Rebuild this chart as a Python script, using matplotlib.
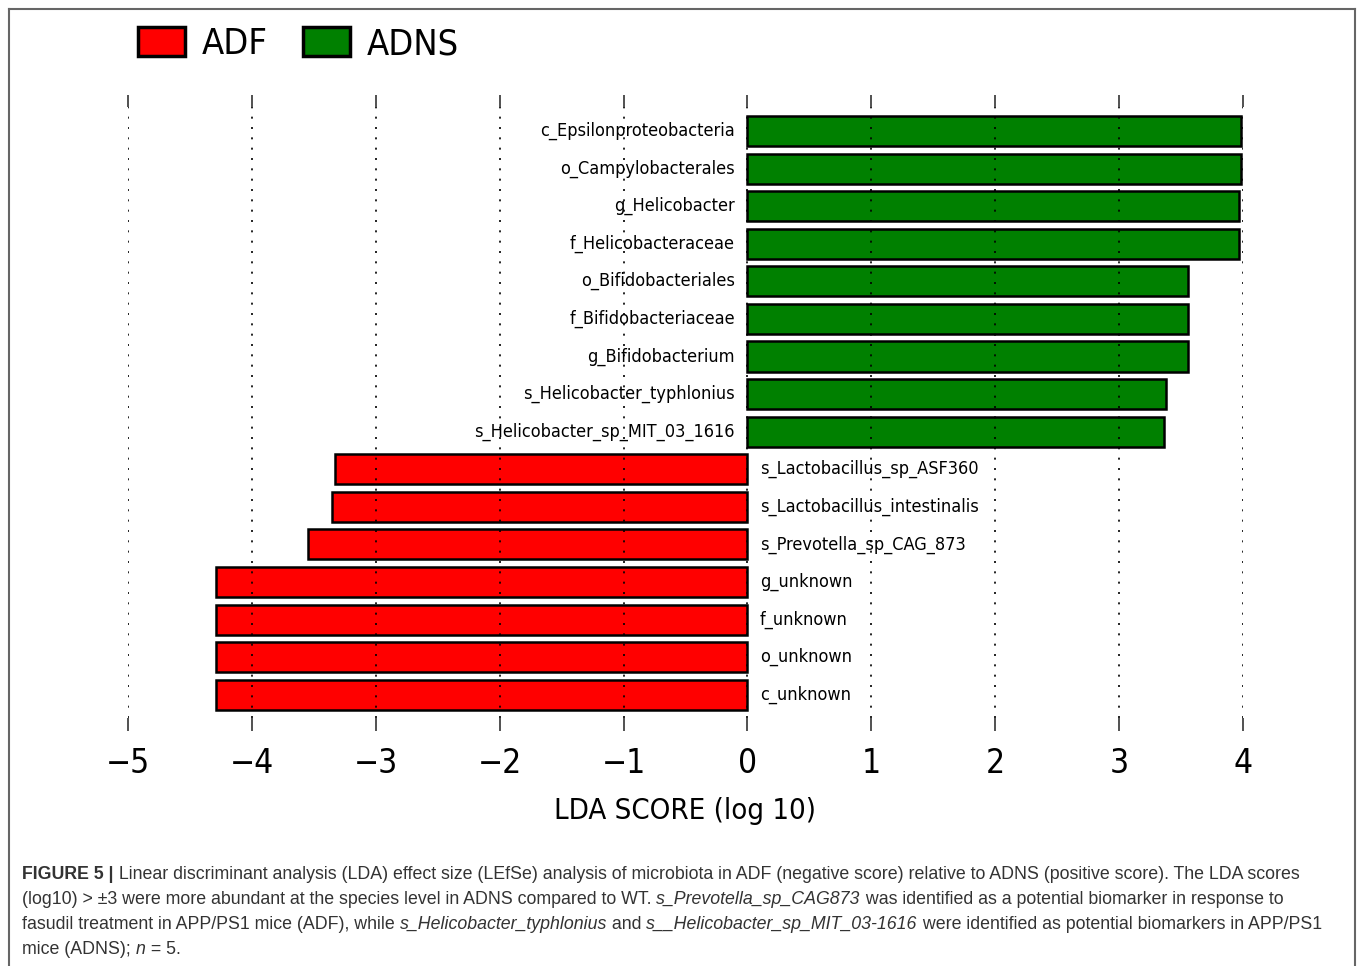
import matplotlib
matplotlib.use("Agg")
import matplotlib.pyplot as plt
from matplotlib.patches import Patch
from matplotlib.lines import Line2D
from matplotlib import font_manager
import numpy as np

# LEfSe results, top to bottom
taxa = [
    "c_Epsilonproteobacteria", "o_Campylobacterales", "g_Helicobacter",
    "f_Helicobacteraceae", "o_Bifidobacteriales", "f_Bifidobacteriaceae",
    "g_Bifidobacterium", "s_Helicobacter_typhlonius", "s_Helicobacter_sp_MIT_03_1616",
    "s_Lactobacillus_sp_ASF360", "s_Lactobacillus_intestinalis", "s_Prevotella_sp_CAG_873",
    "g_unknown", "f_unknown", "o_unknown", "c_unknown",
]
lda = [3.98, 3.98, 3.97, 3.97, 3.56, 3.56, 3.56, 3.38, 3.36,
       -3.33, -3.35, -3.55, -4.29, -4.29, -4.29, -4.29]
xticks = [-5, -4, -3, -2, -1, 0, 1, 2, 3, 4]
groups = ["ADF", "ADNS"]
group_colors = ["#ff0000", "#008000"]

# narrow font for the chart if there is one
chart_font = "DejaVu Sans"
chart_stretch = "condensed"
for name in ["Liberation Sans Narrow"]:
    try:
        font_manager.findfont(name, fallback_to_default=False)
        chart_font = name
        chart_stretch = "normal"
        break
    except Exception:
        pass

fig = plt.figure(figsize=(13.57, 9.66), dpi=100)
W, H = 1357, 966

ax = fig.add_axes([128 / W, 1 - 718 / H, 1115 / W, 611 / H])
y = np.arange(len(taxa))
colors = [group_colors[1] if v > 0 else group_colors[0] for v in lda]
ax.barh(y, lda, height=0.8, color=colors, edgecolor="black", linewidth=1.8, zorder=2)

ax.set_xlim(-5, 4)
ax.set_ylim(len(taxa) - 0.38, -0.64)
for x in xticks:
    ax.axvline(x, color="black", linestyle=(0, (1.2, 5)), linewidth=1.2, zorder=3)

for yi, (t, v) in enumerate(zip(taxa, lda)):
    if v > 0:
        ax.text(-0.1, yi, t, ha="right", va="center", fontsize=13,
                family=chart_font, fontstretch=chart_stretch, zorder=4)
    else:
        ax.text(0.1, yi, t, ha="left", va="center", fontsize=13,
                family=chart_font, fontstretch=chart_stretch, zorder=4)

for s in ax.spines.values():
    s.set_visible(False)
ax.set_yticks([])
ax.set_xticks(xticks)
ax.set_xticklabels([f"\u2212{abs(v)}" if v < 0 else str(v) for v in xticks],
                   fontsize=24, family=chart_font, fontstretch=chart_stretch)
ax.tick_params(axis="x", which="both", top=True, bottom=True, direction="out",
               length=9, width=1.2, color="#333333", pad=12)
ax.set_xlabel("LDA SCORE (log 10)", fontsize=21, family=chart_font,
              fontstretch=chart_stretch, labelpad=12)

handles = [Patch(facecolor=c, edgecolor="black", linewidth=2.5) for c in group_colors]
fig.legend(handles, groups, loc="upper left", bbox_to_anchor=(120 / W, 1 - 9 / H),
           ncol=2, frameon=False, borderpad=0, handlelength=1.3, handleheight=0.85,
           handletextpad=0.45, columnspacing=1.0,
           prop={"family": chart_font, "stretch": chart_stretch, "size": 26})

# frame around the figure panel
frame_kw = dict(color="#666666", linewidth=1.5, transform=fig.transFigure)
fig.add_artist(Line2D([8.5 / W, 8.5 / W], [0, 1 - 8.5 / H], **frame_kw))
fig.add_artist(Line2D([8.5 / W, 1354.5 / W], [1 - 8.5 / H, 1 - 8.5 / H], **frame_kw))
fig.add_artist(Line2D([1354.5 / W, 1354.5 / W], [0, 1 - 8.5 / H], **frame_kw))

# caption, drawn run by run so bold/italic can be mixed
cap_font = "Liberation Sans"
cap_size = 12.8
cap_color = "#333333"
caption = [
    [("FIGURE 5 |", "bold", "normal"),
     (" Linear discriminant analysis (LDA) effect size (LEfSe) analysis of microbiota in ADF "
      "(negative score) relative to ADNS (positive score). The LDA scores", "normal", "normal")],
    [("(log10) > \u00b13 were more abundant at the species level in ADNS compared to WT. ", "normal", "normal"),
     ("s_Prevotella_sp_CAG873", "normal", "italic"),
     (" was identified as a potential biomarker in response to", "normal", "normal")],
    [("fasudil treatment in APP/PS1 mice (ADF), while ", "normal", "normal"),
     ("s_Helicobacter_typhlonius", "normal", "italic"),
     (" and ", "normal", "normal"),
     ("s__Helicobacter_sp_MIT_03-1616", "normal", "italic"),
     (" were identified as potential biomarkers in APP/PS1", "normal", "normal")],
    [("mice (ADNS); ", "normal", "normal"), ("n", "normal", "italic"),
     (" = 5.", "normal", "normal")],
]
baselines = [879, 904, 929, 954]

renderer = fig.canvas.get_renderer()


def run_width(s, weight, style):
    # measure with sentinels so that edge spaces count
    t1 = fig.text(0, 0, "|" + s + "|", family=cap_font, size=cap_size, weight=weight, style=style)
    t2 = fig.text(0, 0, "||", family=cap_font, size=cap_size, weight=weight, style=style)
    w = t1.get_window_extent(renderer).width - t2.get_window_extent(renderer).width
    t1.remove()
    t2.remove()
    return w


for line, base in zip(caption, baselines):
    xpix = 22
    for s, weight, style in line:
        fig.text(xpix / W, 1 - base / H, s, family=cap_font, size=cap_size,
                 weight=weight, style=style, color=cap_color, va="baseline", ha="left")
        xpix += run_width(s, weight, style)

fig.savefig("out.png", dpi=100)
